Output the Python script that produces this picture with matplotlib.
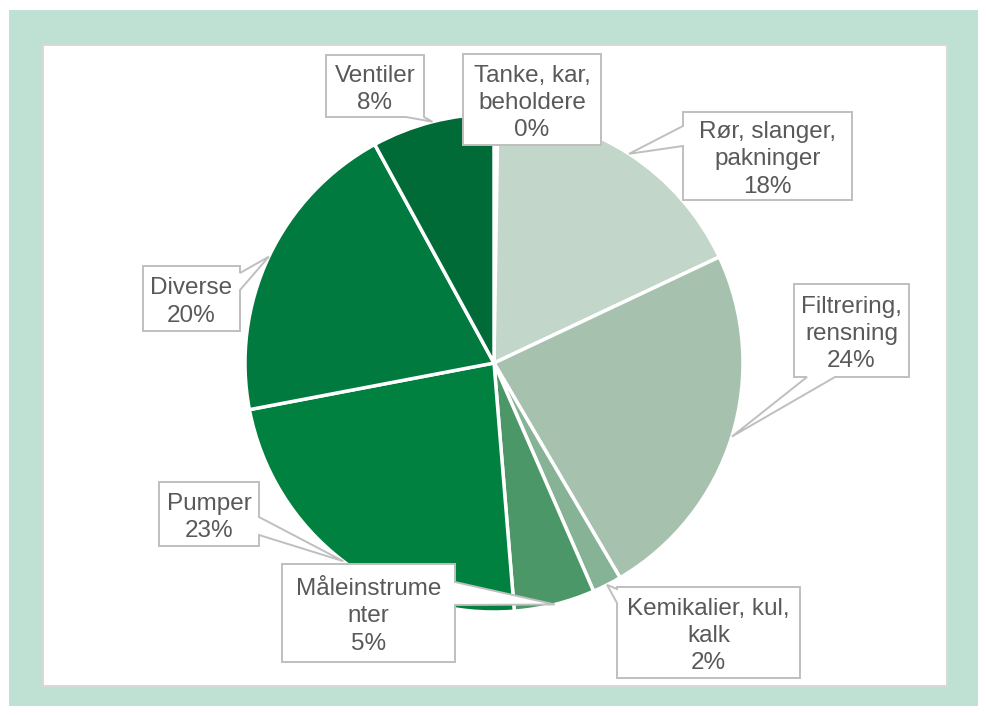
import numpy as np
import matplotlib.pyplot as plt
from matplotlib.patches import Rectangle, Polygon

plt.rcParams['font.family'] = ['Liberation Sans', 'DejaVu Sans']

# data (percent)
categories = ["Tanke, kar,\nbeholdere", "Rør, slanger,\npakninger", "Filtrering,\nrensning",
              "Kemikalier, kul,\nkalk", "Måleinstrume\nnter", "Pumper", "Diverse", "Ventiler"]
values = [0.25, 17.75, 23.55, 1.9, 5.25, 23.3, 20.05, 7.95]
colors = ["#dfeae3", "#c3d6ca", "#a6c2ae", "#86b295", "#4c9768", "#00813f", "#007a3e", "#006b37"]

# callout boxes in pixels: (x0, y0, x1, y1), side of the pointer, pointer base
boxes = [
    ((463, 54, 601, 145), None, None),
    ((683, 112, 852, 200), "left", (126, 146)),
    ((794, 284, 909, 377), "bottom", (807, 835)),
    ((617, 587, 800, 678), "left", (589, 603)),
    ((282, 564, 455, 662), "right", (582, 605)),
    ((159, 482, 259, 546), "right", (517, 535)),
    ((143, 266, 240, 331), "right", (273, 290)),
    ((326, 55, 424, 117), "bottom", (406, 424)),
]

W, H = 986, 715
cx, cy, R = 494, 363, 249

fig = plt.figure(figsize=(W / 100, H / 100), dpi=100)

# background frame
bg = fig.add_axes([0, 0, 1, 1])
bg.set_xlim(0, W)
bg.set_ylim(H, 0)
bg.axis('off')
bg.add_patch(Rectangle((9, 10), 969, 696, facecolor="#bfe1d3", edgecolor="none"))
bg.add_patch(Rectangle((43, 45), 904, 641, facecolor="white", edgecolor="#d9d9d9", lw=1.5))

# pie
ax = fig.add_axes([(cx - R) / W, (H - cy - R) / H, 2 * R / W, 2 * R / H])
wedges, _ = ax.pie(values, colors=colors, startangle=90, counterclock=False, radius=1,
                   wedgeprops=dict(edgecolor="white", linewidth=2.5))
ax.set_xlim(-1, 1)
ax.set_ylim(-1, 1)
ax.axis('off')

# callouts
ov = fig.add_axes([0, 0, 1, 1])
ov.set_xlim(0, W)
ov.set_ylim(H, 0)
ov.axis('off')
for w, name, val, (box, side, base) in zip(wedges, categories, values, boxes):
    a = np.deg2rad((w.theta1 + w.theta2) / 2)
    tx, ty = cx + R * np.cos(a), cy - R * np.sin(a)
    x0, y0, x1, y1 = box
    if side == "left":
        pts = [(x0, y0), (x1, y0), (x1, y1), (x0, y1), (x0, base[1]), (tx, ty), (x0, base[0])]
    elif side == "right":
        pts = [(x0, y0), (x1, y0), (x1, base[0]), (tx, ty), (x1, base[1]), (x1, y1), (x0, y1)]
    elif side == "bottom":
        pts = [(x0, y0), (x1, y0), (x1, y1), (base[1], y1), (tx, ty), (base[0], y1), (x0, y1)]
    else:
        pts = [(x0, y0), (x1, y0), (x1, y1), (x0, y1)]
    ov.add_patch(Polygon(pts, closed=True, facecolor="white", edgecolor="#bfbfbf", lw=1.4))
    ov.text((x0 + x1) / 2, (y0 + y1) / 2 + 3.5, f"{name}\n{round(val)}%", ha="center", va="center",
            fontsize=17.5, color="#595959", linespacing=1.32)

fig.savefig("out.png", dpi=100)
